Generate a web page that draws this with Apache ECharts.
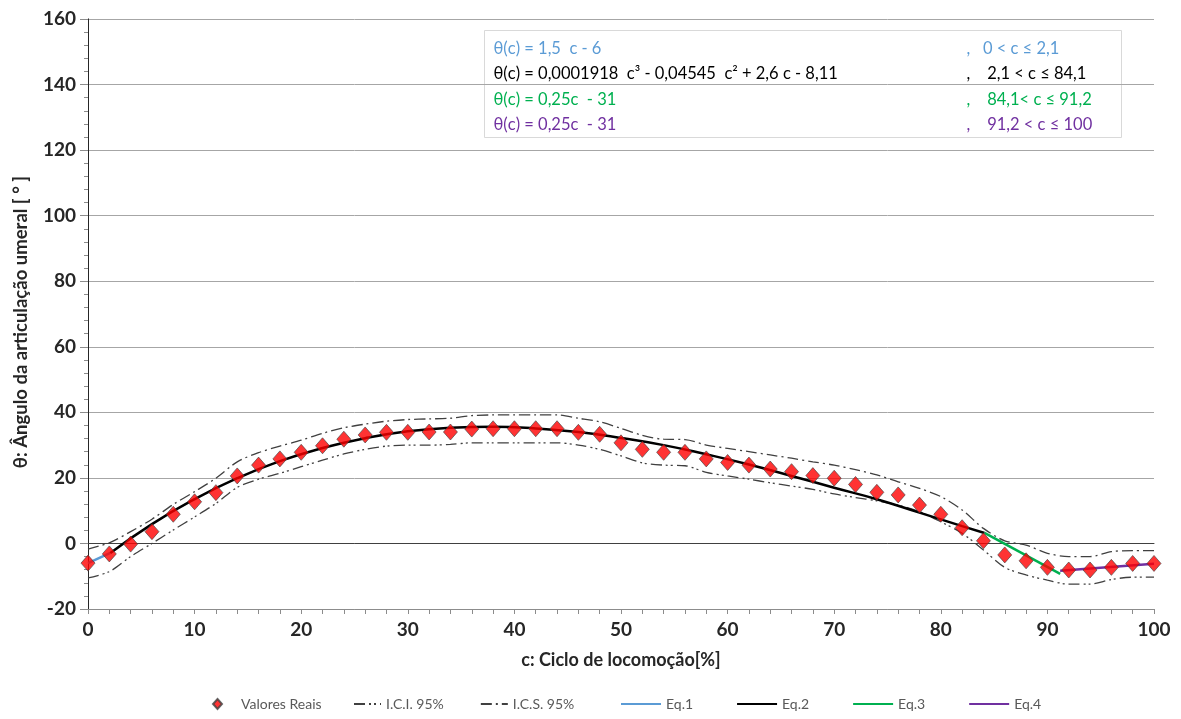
<!DOCTYPE html>
<html>
<head>
<meta charset="utf-8">
<title>Ângulo da articulação umeral</title>
<script src="https://cdn.jsdelivr.net/npm/echarts@6/dist/echarts.min.js"></script>
<style>
  html, body { margin: 0; padding: 0; background: #fff; }
  #main { width: 1181px; height: 719px; }
</style>
</head>
<body>
<div id="main"></div>
<script>
// ciclo de locomoção (%), pontos medidos de 2 em 2
var cycle = [0,2,4,6,8,10,12,14,16,18,20,22,24,26,28,30,32,34,36,38,40,42,44,46,48,50,
             52,54,56,58,60,62,64,66,68,70,72,74,76,78,80,82,84,86,88,90,92,94,96,98,100];
var realValues = [-6,-3.2,-0.2,3.6,8.9,12.7,15.5,20.6,23.9,25.8,27.8,29.8,31.8,33.1,33.9,33.9,34,34,34.9,
                  35,35,35,35,33.9,33.3,30.7,28.7,27.8,27.8,25.8,24.7,23.9,22.7,21.9,20.7,19.9,18,
                  15.6,14.8,11.7,8.9,4.8,0.8,-3.5,-5.3,-7.3,-8.1,-8.1,-7.3,-6.1,-6.1];
// intervalo de confiança inferior / superior 95%
var iciValues = [-10.5,-8.6,-4,0,4.1,8.1,12.2,17.1,19.6,21.4,23.4,25.4,27.3,28.7,29.7,30,30,30.2,30.7,
                 30.7,30.7,30.7,30.7,30,28.7,26.7,24.6,23.9,23.7,21.7,20.6,19.6,18.5,17.5,16.5,15.1,14,
                 13,11.7,9.7,6.6,3.1,-2,-7.3,-9.6,-11.2,-12.4,-12.4,-11,-10.3,-10.3];
var icsValues = [-1.7,0.2,3.6,7.4,11.9,15.8,19.9,24.9,27.7,29.7,31.5,33.6,35.3,36.4,37.3,37.8,38,38.2,39,
                 39.2,39.2,39.2,39.2,38.2,37.1,35.1,33,31.8,31.7,30,29,28,27,26,24.9,23.9,22.5,
                 20.9,18.8,16.8,14.3,10.2,4.6,0.8,-0.5,-3,-4,-4,-2.5,-2.2,-2.2];
// curvas ajustadas
var eq1C = [0, 2.1];
var eq1Values = [-6, -2.9];
var eq2C = [2.1,6,10,14,18,22,26,30,34,38,42,46,50,54,58,62,66,70,74,78,82,84.1];
var eq2Values = [-2.9,5.9,13.5,19.9,25.1,29.1,32.1,34.2,35.3,35.6,35.1,34,32.2,30,27.2,24.1,20.6,17,13.5,9.4,5.3,3.2];
var eq3C = [84.1, 91.2];
var eq3Values = [3.2, -9.3];
var eq4C = [91.2, 100];
var eq4Values = [-8.3, -6.2];

var equations = [
  { text: 'θ(c) = 1,5  c - 6', range: ',   0 < c ≤ 2,1', color: '#5b9bd5' },
  { text: 'θ(c) = 0,0001918  c³ - 0,04545  c² + 2,6 c - 8,11', range: ',    2,1 < c ≤ 84,1', color: '#000000' },
  { text: 'θ(c) = 0,25c  - 31', range: ',    84,1< c ≤ 91,2', color: '#00b050' },
  { text: 'θ(c) = 0,25c  - 31', range: ',    91,2 < c ≤ 100', color: '#7030a0' }
];

function pairs(xs, ys) {
  var out = [];
  for (var i = 0; i < xs.length; i++) out.push([xs[i], ys[i]]);
  return out;
}

var myChart = echarts.init(document.getElementById('main'));

var font = 'Lato, "Open Sans", sans-serif';
var boxChildren = [{
  type: 'rect',
  shape: { x: 0, y: 0, width: 637, height: 107 },
  style: { fill: '#fff', stroke: '#d9d9d9', lineWidth: 1 }
}];
equations.forEach(function(eq, i) {
  boxChildren.push({
    type: 'text', x: 9, y: 18 + i * 25.5,
    style: { text: eq.text, fill: eq.color, font: '16.5px ' + font, verticalAlign: 'middle' }
  });
  boxChildren.push({
    type: 'text', x: 482, y: 18 + i * 25.5,
    style: { text: eq.range, fill: eq.color, font: '16.5px ' + font, verticalAlign: 'middle' }
  });
});

var legendText = { color: '#595959', fontSize: 14 };

var option = {
  textStyle: { fontFamily: font },
  animation: false,
  grid: { left: 88, right: 27, top: 19, bottom: 110 },
  legend: [{
    left: 207, bottom: 3,
    itemWidth: 9, itemHeight: 10,
    textStyle: { color: '#595959', fontSize: 14, padding: [0, 0, 0, 14] },
    data: ['Valores Reais']
  }, {
    left: 348, bottom: 3,
    itemWidth: 27, itemHeight: 12, itemGap: 36,
    itemStyle: { opacity: 0 },
    textStyle: legendText,
    data: ['I.C.I. 95%', 'I.C.S. 95%']
  }, {
    left: 615, bottom: 3,
    itemWidth: 40, itemHeight: 12, itemGap: 43,
    itemStyle: { opacity: 0 },
    textStyle: legendText,
    data: ['Eq.1', 'Eq.2', 'Eq.3', 'Eq.4']
  }],
  xAxis: [{
    type: 'value',
    min: 0, max: 100, interval: 10,
    name: 'c: Ciclo de locomoção[%]',
    nameLocation: 'middle',
    nameGap: 42,
    nameTextStyle: { fontWeight: 'bold', fontSize: 18, color: '#262626' },
    axisLine: { onZero: false, lineStyle: { color: '#8c8c8c' } },
    axisTick: { length: 5, lineStyle: { color: '#8c8c8c' } },
    minorTick: { show: true, splitNumber: 5, length: 5, lineStyle: { color: '#8c8c8c' } },
    axisLabel: { fontWeight: 'bold', fontSize: 19, color: '#262626', margin: 11 },
    splitLine: { show: false }
  }, {
    type: 'value', position: 'top', min: 0, max: 100,
    axisLine: { show: true, lineStyle: { color: '#404040' } },
    axisTick: { show: false }, axisLabel: { show: false }, splitLine: { show: false }
  }],
  yAxis: [{
    type: 'value',
    min: -20, max: 160, interval: 20,
    name: 'θ: Ângulo da articulação umeral [ ° ]',
    nameLocation: 'middle',
    nameGap: 57,
    nameTextStyle: { fontWeight: 'bold', fontSize: 18.5, color: '#262626', padding: [0, 16, 0, 0] },
    axisLine: { show: true, onZero: false, lineStyle: { color: '#8c8c8c' } },
    axisTick: { show: true, length: 8, lineStyle: { color: '#8c8c8c' } },
    minorTick: { show: true, splitNumber: 5, length: 4, lineStyle: { color: '#8c8c8c' } },
    axisLabel: { fontWeight: 'bold', fontSize: 19, color: '#262626', margin: 12 },
    splitLine: { lineStyle: { color: '#a6a6a6' } }
  }, {
    type: 'value', position: 'right', min: -20, max: 160,
    axisLine: { show: true, lineStyle: { color: '#262626' } },
    axisTick: { show: false }, axisLabel: { show: false }, splitLine: { show: false }
  }],
  graphic: [{
    type: 'group', left: 484, top: 30,
    children: boxChildren
  }],
  series: [
    {
      name: 'I.C.I. 95%', type: 'line', smooth: 0.3, symbol: 'none',
      lineStyle: { color: '#404040', width: 1.3, type: [11, 4, 2, 3, 2, 4] },
      itemStyle: { color: '#404040' },
      data: pairs(cycle, iciValues), z: 2
    },
    {
      name: 'I.C.S. 95%', type: 'line', smooth: 0.3, symbol: 'none',
      lineStyle: { color: '#404040', width: 1.3, type: [11, 4, 2, 4] },
      itemStyle: { color: '#404040' },
      data: pairs(cycle, icsValues), z: 2
    },
    {
      name: 'Eq.1', type: 'line', symbol: 'none',
      lineStyle: { color: '#5b9bd5', width: 2.5 }, itemStyle: { color: '#5b9bd5' },
      data: pairs(eq1C, eq1Values), z: 3
    },
    {
      name: 'Eq.2', type: 'line', smooth: true, symbol: 'none',
      lineStyle: { color: '#000', width: 2.5 }, itemStyle: { color: '#000' },
      data: pairs(eq2C, eq2Values), z: 3
    },
    {
      name: 'Eq.3', type: 'line', symbol: 'none',
      lineStyle: { color: '#00b050', width: 2.5 }, itemStyle: { color: '#00b050' },
      data: pairs(eq3C, eq3Values), z: 3
    },
    {
      name: 'Eq.4', type: 'line', symbol: 'none',
      lineStyle: { color: '#7030a0', width: 2.5 }, itemStyle: { color: '#7030a0' },
      data: pairs(eq4C, eq4Values), z: 3
    },
    {
      name: 'Valores Reais', type: 'scatter', symbol: 'diamond', symbolSize: [14, 16],
      itemStyle: { color: '#ff0000', borderColor: '#404040', borderWidth: 0.8 },
      data: pairs(cycle, realValues), z: 5
    }
  ]
};

myChart.setOption(option);
</script>
</body>
</html>
